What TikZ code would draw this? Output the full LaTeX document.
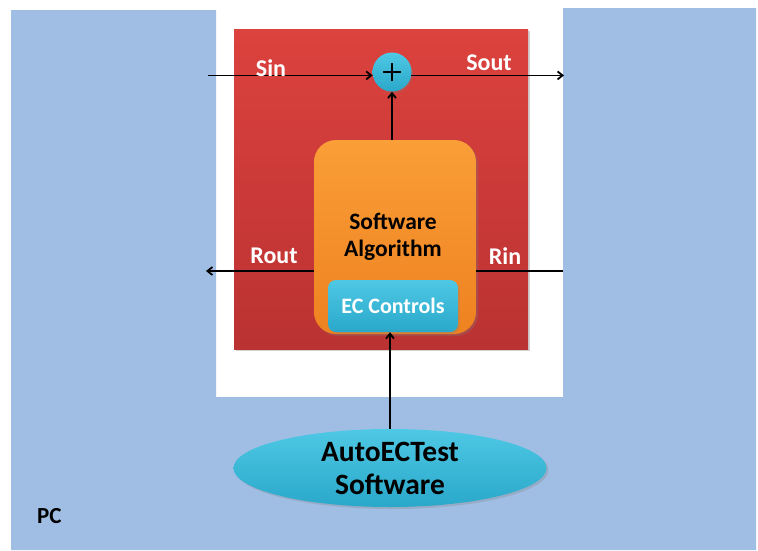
\documentclass[tikz,border=0pt]{standalone}
\usepackage{fontspec}
\setmainfont{Carlito}
\usetikzlibrary{shapes.geometric,arrows.meta,shadows,calc}
\definecolor{pcblue}{RGB}{160,190,227}
\definecolor{redtop}{RGB}{220,66,62}
\definecolor{redbot}{RGB}{186,50,50}
\definecolor{orgtop}{RGB}{250,158,55}
\definecolor{orgbot}{RGB}{238,130,32}
\definecolor{cyantop}{RGB}{78,200,228}
\definecolor{cyanbot}{RGB}{42,168,202}
\tikzset{
  conn/.style={line width=1.8pt, draw=black},
  arr/.style={conn, -{Straight Barb[length=5pt,width=8pt]}},
  wlabel/.style={text=white, font=\bfseries\fontsize{24}{26}\selectfont, inner sep=0pt},
  redbox/.style={rectangle, top color=redtop, bottom color=redbot, draw=none,
     drop shadow={shadow xshift=2pt, shadow yshift=-2pt, opacity=0.35}},
  orangebox/.style={rectangle, rounded corners=22pt, top color=orgtop, bottom color=orgbot, draw=none,
     drop shadow={shadow xshift=2pt, shadow yshift=-2pt, opacity=0.3}},
  ecbox/.style={rectangle, rounded corners=8pt, top color=cyantop, bottom color=cyanbot, draw=none,
     text=white, font=\bfseries\fontsize{22}{24}\selectfont,
     drop shadow={shadow xshift=1.5pt, shadow yshift=-1.5pt, opacity=0.3}},
  sumnode/.style={circle, top color=cyantop, bottom color=cyanbot, draw=none,
     drop shadow={shadow xshift=1.5pt, shadow yshift=-1.5pt, opacity=0.3}},
  swnode/.style={ellipse, top color=cyantop, bottom color=cyanbot, draw=none,
     font=\bfseries\fontsize{29.5}{33}\selectfont, align=center,
     drop shadow={shadow xshift=2pt, shadow yshift=-2pt, opacity=0.3}}
}
\begin{document}
\begin{tikzpicture}[x=1pt,y=-1pt]
\useasboundingbox (0,0) rectangle (758,550);
\fill[white] (0,0) rectangle (758,550);
% PC area
\fill[pcblue] (11,10) -- (216,10) -- (216,397) -- (563,397) -- (563,8) -- (756,8) -- (756,550) -- (11,550) -- cycle;
\node[text=black, font=\bfseries\fontsize{23}{25}\selectfont, anchor=base west, inner sep=0pt] (pc) at (37,523) {PC};
% red box
\node[redbox, minimum width=294pt, minimum height=320pt] (red) at (381,189) {};
% sum node
\node[sumnode, minimum size=39pt, inner sep=0pt] (sum) at (392,72) {};
\draw[line width=1.1pt] ($(sum.center)+(-9pt,0)$) -- ($(sum.center)+(9pt,0)$);
\draw[line width=1.1pt] ($(sum.center)+(0,-9pt)$) -- ($(sum.center)+(0,9pt)$);
% algorithm box
\node[orangebox, minimum width=162pt, minimum height=194pt] (alg) at (395,237) {};
\node[font=\bfseries\fontsize{23.5}{27}\selectfont, align=center, inner sep=0pt, anchor=base] (algtext) at (393,256) {Software\\Algorithm};
\node[ecbox, minimum width=130pt, minimum height=52pt, inner sep=0pt] (ec) at (393,306) {EC Controls};
% software ellipse
\node[swnode, minimum width=313pt, minimum height=78pt, inner sep=0pt] (sw) at (390,468) {AutoECTest\\Software};
% coordinates
\coordinate (sinstart) at (208,75);
\coordinate (soutend) at (564,75);
\coordinate (routend) at (206,271);
\coordinate (rinstart) at (563,271);
% connectors
\draw[arr] (sum.190 -| sinstart) -- (sum.190);
\draw[arr] (sum.350) -- (sum.350 -| soutend);
\draw[arr] (alg.north -| sum) -- (sum.south);
\draw[arr] (routend -| alg.west) -- (routend);
\draw[conn] (rinstart) -- (rinstart -| alg.east);
\draw[arr] (sw.north) -- (sw.north |- ec.south);
% labels
\node[wlabel] (sin) at (271,68) {Sin};
\node[wlabel] (sout) at (489,63) {Sout};
\node[wlabel] (rout) at (274,256) {Rout};
\node[wlabel] (rin) at (505,256) {Rin};
\end{tikzpicture}
\end{document}
